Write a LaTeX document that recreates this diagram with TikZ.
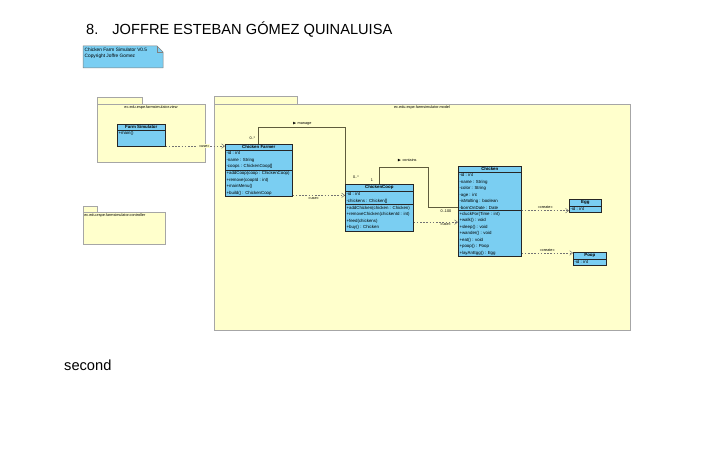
\documentclass[tikz,border=0pt]{standalone}
\usepackage{fontspec}
\setmainfont{Liberation Sans}
\usepackage{amssymb}
\usetikzlibrary{arrows.meta,shapes,positioning,calc}
\definecolor{clsblue}{RGB}{122,206,242}
\definecolor{pkgyellow}{RGB}{255,255,204}
\definecolor{assoc}{RGB}{95,92,60}
\tikzset{cls/.style={draw=black!85, fill=clsblue, rectangle split,
    rectangle split parts=3, rectangle split part align={center,left,left},
    align=left, anchor=north west, inner xsep=1.2bp, inner ysep=1.1bp,
    font=\fontsize{4.4}{6.5}\selectfont, line width=0.6bp}}
\tikzset{pkg/.style={draw=black!35, fill=pkgyellow, line width=0.6bp}}
\tikzset{lbl/.style={font=\fontsize{3.8}{4.5}\selectfont, inner sep=0.6bp}}
\tikzset{dep/.style={draw=black!55, line width=0.5bp, dash pattern=on 1.6bp off 1.6bp,
    -{Straight Barb[length=3bp,width=4.5bp]}}}
\tikzset{assocline/.style={draw=assoc, line width=0.8bp}}

\begin{document}
\begin{tikzpicture}[x=1bp, y=-1bp]
    \useasboundingbox (0,0) rectangle (713,449);
    \node[anchor=west, font=\fontsize{14.7}{16}\selectfont, inner sep=0pt] (title)
      at (86,30) {8.\hspace{14bp}JOFFRE ESTEBAN GÓMEZ QUINALUISA};
    \node[anchor=west, font=\fontsize{14.7}{16}\selectfont, inner sep=0pt] (second)
      at (64,365) {second};
    % note
    \filldraw[fill=clsblue, draw=black!50, line width=0.5bp]
      (83,46) -- (157,46) -- (163,52) -- (163,68) -- (83,68) -- cycle;
    \draw[draw=black!50, line width=0.5bp] (157,46) -- (157,52) -- (163,52);
    \node[anchor=north west, align=left, font=\fontsize{4.8}{5.6}\selectfont,
      inner sep=0pt] (note) at (84.5,48) {Chicken Farm Simulator V0.5\\Copyright Joffre Gomez};
    % packages
    \draw[pkg] (97,97) rectangle (142,104);
    \draw[pkg] (97,104) rectangle (205,162);
    \node[lbl] (viewname) at (151,107.5) {ec.edu.espe.farmsimulator.view};
    \draw[pkg] (214,96) rectangle (297,104);
    \draw[pkg] (214,104) rectangle (630,330);
    \node[lbl] (modelname) at (422,107.5) {ec.edu.espe.farmsimulator.model};
    \draw[pkg] (83,206) rectangle (97,212);
    \draw[pkg] (83,212) rectangle (165,244);
    \node[lbl, anchor=west] (ctrlname) at (83.5,216) {ec.edu.espe.farmsimulator.controller};
    % classes
    \node[cls, rectangle split parts=2, minimum width=48bp] (fs) at (117,124)
      {\textbf{Farm Simulator} \nodepart{second} +main()\\[4bp]};
    \node[cls, minimum width=67bp] (farmer) at (225,144)
      {\textbf{Chicken Farmer}
       \nodepart{second} -id : int\\-name : String\\-coops : ChickenCoop[]
       \nodepart{third} +addCoop(coop : ChickenCoop)\\+remove(coopId : int)\\+mainMenu()\\+build() : ChickenCoop};
    \node[cls, minimum width=68bp] (coop) at (345,184)
      {\textbf{ChickenCoop}
       \nodepart{second} -id : int\\-chickens : Chicken[]
       \nodepart{third} +addChicken(chicken : Chicken)\\+removeChicken(chickenId : int)\\+feed(chickens)\\+buy() : Chicken};
    \node[cls, minimum width=63bp] (chicken) at (458,166)
      {\textbf{Chicken}
       \nodepart{second} -id : int\\-name : String\\-color : String\\-age : int\\-isMolting : boolean\\-bornOnDate : Date
       \nodepart{third} +cluckFor(Time : int)\\+walk() : void\\+sleep() : void\\+wander() : void\\+eat() : void\\+poop() : Poop\\+layAnEgg() : Egg};
    \node[cls, rectangle split parts=2, minimum width=32bp] (egg) at (569,199)
      {\textbf{Egg} \nodepart{second} -id : int};
    \node[cls, rectangle split parts=2, minimum width=33bp] (poop) at (573,252)
      {\textbf{Poop} \nodepart{second} -id : int};
    % dependencies
    \coordinate (fsout) at ([yshift=1bp]fs.south east);
    \draw[dep] (fsout) -- (fsout -| farmer.west)
      node[lbl, pos=0.65, fill=pkgyellow] {«use»};
    \coordinate (farmerout) at ([yshift=1.5bp]farmer.south east);
    \draw[dep] (farmerout) -- (farmerout -| coop.west)
      node[lbl, pos=0.4, below=1bp] {«use»};
    \coordinate (coopout) at ([yshift=9bp]coop.south east);
    \draw[dep] (coopout) -- (coopout -| chicken.west)
      node[lbl, pos=0.72, below=0.5bp] {«use»};
    \coordinate (eggin) at ($(egg.west)+(0,5)$);
    \draw[dep] (chicken.east |- eggin) -- (eggin)
      node[lbl, midway, above=1bp] {«create»};
    \coordinate (poopin) at ($(poop.north west)+(0,1)$);
    \draw[dep] (chicken.east |- poopin) -- (poopin)
      node[lbl, midway, above=1bp] {«create»};
    % associations
    \draw[assocline] (farmer.north) -- ++(0,-17) -| (coop.north west);
    \node[lbl] (manage) at (302,123.5) {$\blacktriangleright$\ manage};
    \node[lbl, anchor=east] (m1) at (256,138) {0..*};
    \node[lbl] (m2) at (356,177) {0..*};
    \coordinate (bendB) at (428,167);
    \draw[assocline] (coop.north) |- (bendB) |- ([yshift=4bp]chicken.west);
    \node[lbl] (contains) at (407,160) {$\blacktriangleright$\ contains};
    \node[lbl] (m3) at (372,180) {1};
    \node[lbl] (m4) at (446,211) {0..100};
\end{tikzpicture}
\end{document}
